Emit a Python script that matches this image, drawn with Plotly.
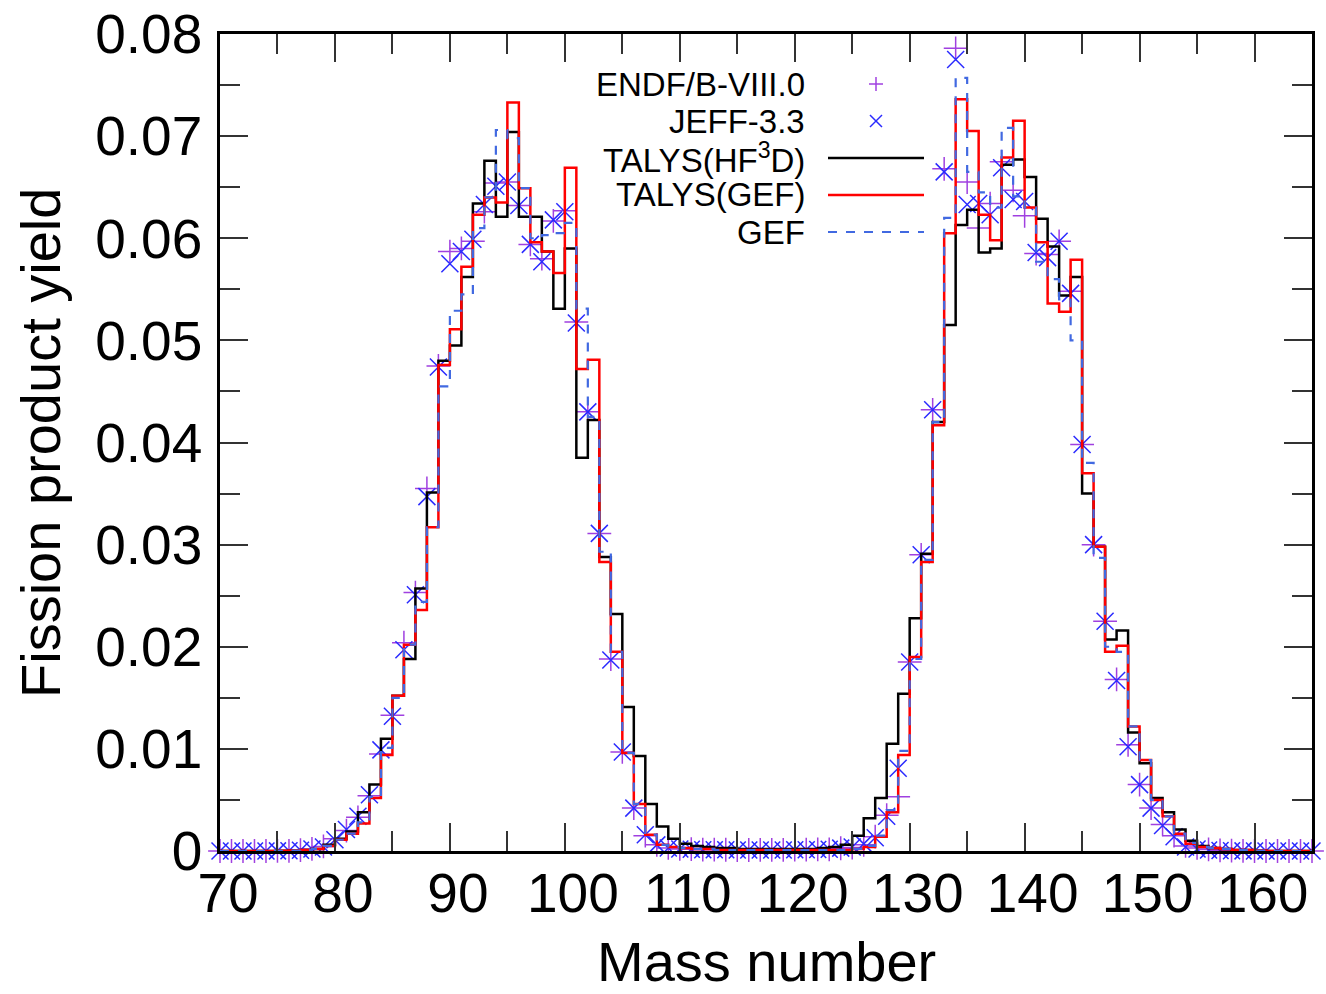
import plotly.graph_objects as go

# Mass numbers
A = list(range(70, 166))

# ENDF/B-VIII.0 (+)
endf = [0.0, 0.0, 0.0, 0.0, 0.0, 0.00001, 0.00002, 0.00008, 0.0002, 0.00045,
        0.0012, 0.0020, 0.0033, 0.0054, 0.0095, 0.0133, 0.0204, 0.0253, 0.0355, 0.0475,
        0.0587, 0.0590, 0.0597, 0.0626, 0.0654, 0.0655, 0.0632, 0.0594, 0.0580, 0.0617,
        0.0627, 0.0518, 0.0430, 0.0311, 0.0188, 0.0097, 0.0042, 0.0015, 0.0006, 0.0003,
        0.0002, 0.00018, 0.00013, 0.00014, 0.00012, 0.0001, 0.0001, 0.00011, 0.00011, 0.00011,
        0.00013, 0.00014, 0.00016, 0.00016, 0.00027, 0.00034, 0.0006, 0.0014, 0.0035, 0.0053,
        0.0185, 0.0290, 0.0432, 0.0668, 0.0786, 0.0655, 0.0610, 0.0634, 0.0675, 0.0647,
        0.0622, 0.0585, 0.0584, 0.0597, 0.0548, 0.0398, 0.0300, 0.0225, 0.0168, 0.0104,
        0.0065, 0.0042, 0.0026, 0.0015, 0.0005, 0.0003, 0.00015, 0.00006, 0.00003, 0.00001,
        0.0, 0.0, 0.0, 0.0, 0.0, 0.0]

# JEFF-3.3 (x)
jeff = [0.0, 0.0, 0.0, 0.0, 0.0, 0.00001, 0.00003, 0.00008, 0.0002, 0.0004,
        0.0011, 0.0021, 0.0034, 0.0055, 0.0099, 0.0132, 0.0197, 0.0251, 0.0347, 0.0474,
        0.0575, 0.0587, 0.0599, 0.0633, 0.0651, 0.0655, 0.0632, 0.0594, 0.0577, 0.0618,
        0.0626, 0.0517, 0.0430, 0.0311, 0.0187, 0.0097, 0.0042, 0.0016, 0.0006, 0.0003,
        0.0002, 0.00017, 0.00013, 0.00013, 0.00012, 0.0001, 0.0001, 0.0001, 0.0001, 0.0001,
        0.00012, 0.00013, 0.00015, 0.00017, 0.00028, 0.0004, 0.0007, 0.0013, 0.0034, 0.0081,
        0.0185, 0.0290, 0.0432, 0.0665, 0.0775, 0.0633, 0.0634, 0.0623, 0.0669, 0.0638,
        0.0636, 0.0586, 0.0581, 0.0597, 0.0546, 0.0398, 0.0300, 0.0225, 0.0167, 0.0102,
        0.0065, 0.0042, 0.0025, 0.0014, 0.0004, 0.0002, 0.0001, 0.00005, 0.00002, 0.00001,
        0.0, 0.0, 0.0, 0.0, 0.0, 0.0]

# TALYS(HF3D) - black steps
talys_hf3d = [0.0, 0.0, 0.0, 0.0, 0.00001, 0.00003, 0.00006, 0.0001, 0.0002, 0.0006,
              0.0012, 0.0019, 0.0038, 0.0065, 0.0110, 0.0152, 0.0188, 0.0257, 0.0351, 0.0480,
              0.0495, 0.0562, 0.0634, 0.0676, 0.0621, 0.0704, 0.0621, 0.0621, 0.0587, 0.0531,
              0.0590, 0.0385, 0.0422, 0.0288, 0.0232, 0.0141, 0.0093, 0.0046, 0.0024, 0.0012,
              0.0007, 0.0005, 0.0004, 0.0003, 0.0003, 0.0002, 0.0002, 0.0002, 0.0002, 0.0002,
              0.0002, 0.0002, 0.0003, 0.0004, 0.0006, 0.0015, 0.0032, 0.0052, 0.0105, 0.0154,
              0.0228, 0.0291, 0.0420, 0.0515, 0.0613, 0.0628, 0.0586, 0.0590, 0.0672, 0.0677,
              0.0660, 0.0619, 0.0592, 0.0544, 0.0562, 0.0350, 0.0298, 0.0207, 0.0216, 0.0116,
              0.0086, 0.0052, 0.0038, 0.0021, 0.0010, 0.0005, 0.0003, 0.0002, 0.0001, 0.0001,
              0.00005, 0.0, 0.0, 0.0, 0.0, 0.0]

# TALYS(GEF) - red steps
talys_gef = [0.0, 0.0, 0.0, 0.0, 0.00001, 0.00002, 0.00005, 0.0001, 0.0002, 0.0005,
             0.0011, 0.0017, 0.0027, 0.0052, 0.0094, 0.0152, 0.0202, 0.0236, 0.0317, 0.0476,
             0.0511, 0.0572, 0.0623, 0.0640, 0.0635, 0.0733, 0.0649, 0.0596, 0.0587, 0.0566,
             0.0669, 0.0472, 0.0481, 0.0283, 0.0195, 0.0096, 0.0046, 0.0016, 0.0006, 0.0004,
             0.0003, 0.0002, 0.0002, 0.0001, 0.0001, 0.0001, 0.0001, 0.0001, 0.0001, 0.0001,
             0.0001, 0.0001, 0.0001, 0.0001, 0.0001, 0.0002, 0.0004, 0.0014, 0.0038, 0.0094,
             0.0190, 0.0283, 0.0417, 0.0605, 0.0736, 0.0705, 0.0623, 0.0598, 0.0679, 0.0715,
             0.0630, 0.0596, 0.0536, 0.0528, 0.0579, 0.0370, 0.0298, 0.0195, 0.0201, 0.0122,
             0.0089, 0.0050, 0.0034, 0.0017, 0.0007, 0.0004, 0.0003, 0.0002, 0.0001, 0.0001,
             0.00005, 0.0, 0.0, 0.0, 0.0, 0.0]

# GEF - blue dashed steps
gef = [0.0, 0.0, 0.0, 0.0, 0.00001, 0.00002, 0.00005, 0.0001, 0.0002, 0.0005,
       0.0011, 0.0017, 0.0028, 0.0053, 0.0101, 0.0150, 0.0202, 0.0244, 0.0317, 0.0455,
       0.0529, 0.0545, 0.0610, 0.0640, 0.0706, 0.0698, 0.0649, 0.0600, 0.0603, 0.0605,
       0.0615, 0.0531, 0.0425, 0.0293, 0.0195, 0.0096, 0.0046, 0.0016, 0.0006, 0.0004,
       0.0003, 0.0002, 0.0002, 0.0001, 0.0001, 0.0001, 0.0001, 0.0001, 0.0001, 0.0001,
       0.0001, 0.0001, 0.0001, 0.0001, 0.0001, 0.0002, 0.0005, 0.0015, 0.0040, 0.0098,
       0.0188, 0.0285, 0.0420, 0.0620, 0.0757, 0.0665, 0.0645, 0.0630, 0.0708, 0.0641,
       0.0630, 0.0577, 0.0560, 0.0540, 0.0500, 0.0380, 0.0287, 0.0200, 0.0195, 0.0122,
       0.0089, 0.0050, 0.0034, 0.0017, 0.0008, 0.0004, 0.0003, 0.0002, 0.0001, 0.0001,
       0.00005, 0.0, 0.0, 0.0, 0.0, 0.0]

labels = ["ENDF/B-VIII.0", "JEFF-3.3", "TALYS(HF<sup>3</sup>D)", "TALYS(GEF)", "GEF"]

C_ENDF = "#a040e0"
C_JEFF = "#2a2aff"
C_HF3D = "#000000"
C_TGEF = "#ff0000"
C_GEF = "#4169e1"
FONT = "Liberation Sans, Arial, Helvetica, sans-serif"

fig = go.Figure()
fig.add_trace(go.Scatter(
    x=A, y=endf, mode="markers", name=labels[0], cliponaxis=False,
    marker=dict(symbol="cross-thin", size=17, color=C_ENDF,
                line=dict(color=C_ENDF, width=1.5))))
fig.add_trace(go.Scatter(
    x=A, y=jeff, mode="markers", name=labels[1], cliponaxis=False,
    marker=dict(symbol="x-thin", size=17, color=C_JEFF,
                line=dict(color=C_JEFF, width=1.5))))
fig.add_trace(go.Scatter(
    x=A, y=talys_hf3d, mode="lines", name=labels[2],
    line=dict(shape="hv", color=C_HF3D, width=2.5)))
fig.add_trace(go.Scatter(
    x=A, y=talys_gef, mode="lines", name=labels[3],
    line=dict(shape="hv", color=C_TGEF, width=2.5)))
fig.add_trace(go.Scatter(
    x=A, y=gef, mode="lines", name=labels[4],
    line=dict(shape="hv", color=C_GEF, width=2.2, dash="9px,9px")))

axis_common = dict(
    ticks="inside", tickwidth=1.5, tickcolor="#333333",
    showline=True, linecolor="black", linewidth=2.5, mirror="ticks",
    showgrid=False, zeroline=False,
    tickfont=dict(family=FONT, size=55, color="black"),
)

fig.update_xaxes(range=[70, 165], tick0=70, dtick=10, ticklen=28,
                 minor=dict(ticks="inside", ticklen=20, dtick=5, tick0=70,
                            tickcolor="#333333", tickwidth=1.5, showgrid=False),
                 ticklabelstandoff=-8, ticklabelshift=8, **axis_common)
fig.update_yaxes(range=[0, 0.08], tick0=0, dtick=0.01, ticklen=28,
                 minor=dict(ticks="inside", ticklen=20, dtick=0.005, tick0=0,
                            tickcolor="#333333", tickwidth=1.5, showgrid=False),
                 ticklabelstandoff=4, **axis_common)

# Plot area in pixels: left 220, right 1312, top 34, bottom 851
L, R, T, B = 220, 1312, 34, 851
W, H = R - L, B - T


def px(xp):
    return (xp - L) / W


def py(yp):
    return (B - yp) / H


annotations = [
    dict(text="Mass number", x=0.5, y=py(961), xref="paper", yref="paper",
         xanchor="center", yanchor="middle", showarrow=False,
         font=dict(family=FONT, size=56, color="black")),
    dict(text="Fission product yield", x=px(41), y=py(443), xref="paper", yref="paper",
         xanchor="center", yanchor="middle", textangle=-90, showarrow=False,
         font=dict(family=FONT, size=56, color="black")),
]

# Key (gnuplot style: text right-aligned, sample on the right)
rows_y = [84, 121, 158, 194, 232]
for lab, ry in zip(labels, rows_y):
    annotations.append(dict(text=lab, x=px(807), y=py(ry), xref="paper", yref="paper",
                            xanchor="right", yanchor="middle", showarrow=False,
                            font=dict(family=FONT, size=33, color="black")))

shapes = []
# + sample
cx, cy, hs = 876, 84, 7
shapes.append(dict(type="line", xref="paper", yref="paper", x0=px(cx - hs), x1=px(cx + hs),
                   y0=py(cy), y1=py(cy), line=dict(color=C_ENDF, width=1.5)))
shapes.append(dict(type="line", xref="paper", yref="paper", x0=px(cx), x1=px(cx),
                   y0=py(cy - hs), y1=py(cy + hs), line=dict(color=C_ENDF, width=1.5)))
# x sample
cx, cy, hs = 876, 121, 6
shapes.append(dict(type="line", xref="paper", yref="paper", x0=px(cx - hs), x1=px(cx + hs),
                   y0=py(cy - hs), y1=py(cy + hs), line=dict(color=C_JEFF, width=1.5)))
shapes.append(dict(type="line", xref="paper", yref="paper", x0=px(cx - hs), x1=px(cx + hs),
                   y0=py(cy + hs), y1=py(cy - hs), line=dict(color=C_JEFF, width=1.5)))
# line samples
shapes.append(dict(type="line", xref="paper", yref="paper", x0=px(828), x1=px(924),
                   y0=py(158), y1=py(158), line=dict(color=C_HF3D, width=2.5)))
shapes.append(dict(type="line", xref="paper", yref="paper", x0=px(828), x1=px(924),
                   y0=py(195), y1=py(195), line=dict(color=C_TGEF, width=2.5)))
shapes.append(dict(type="line", xref="paper", yref="paper", x0=px(828), x1=px(924),
                   y0=py(232), y1=py(232), line=dict(color=C_GEF, width=2.2, dash="9px,9px")))

fig.update_layout(
    width=1326, height=994,
    margin=dict(l=L, r=1326 - R, t=T, b=994 - B, autoexpand=False),
    paper_bgcolor="white", plot_bgcolor="white",
    showlegend=False,
    annotations=annotations,
    shapes=shapes,
    font=dict(family=FONT, color="black"),
)

fig.write_html("out.html")
